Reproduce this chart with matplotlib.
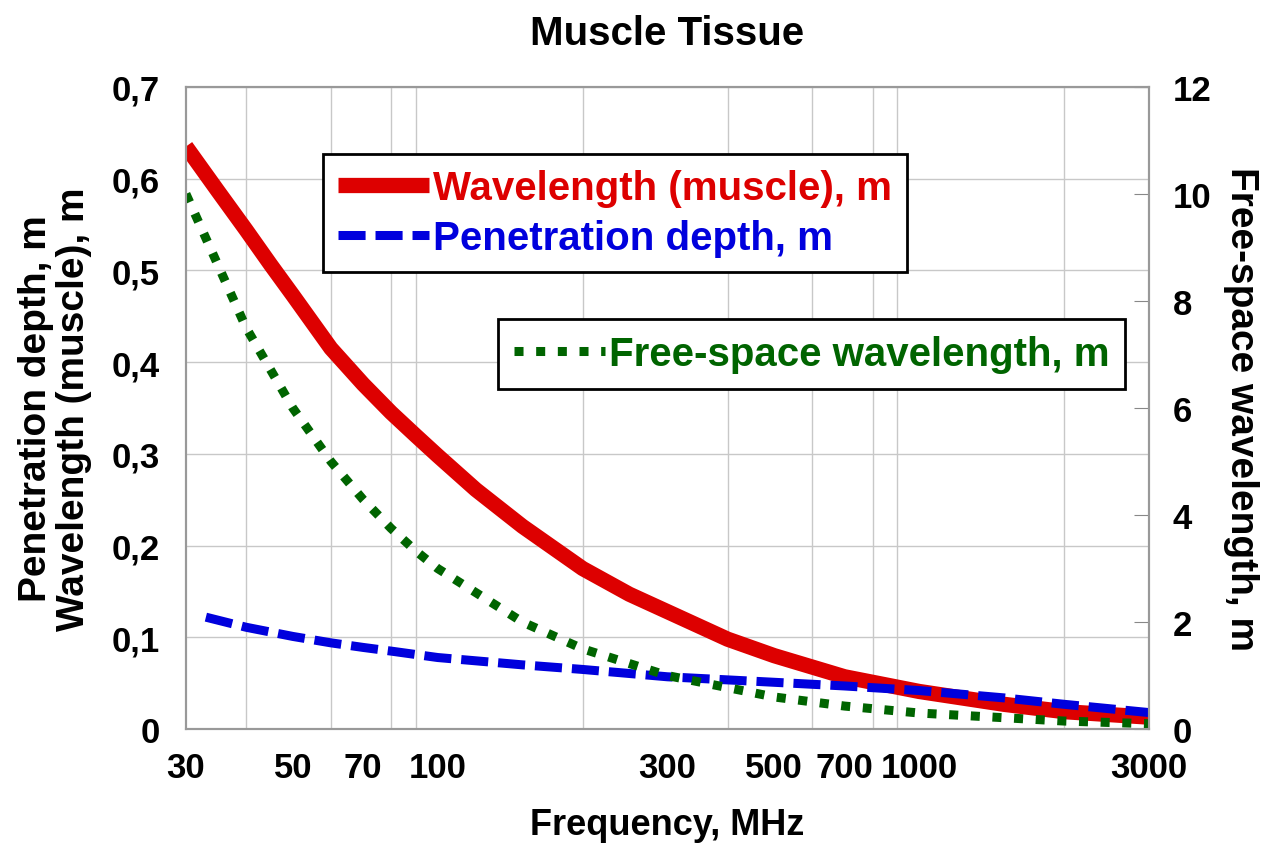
import matplotlib
matplotlib.use("Agg")
import matplotlib.pyplot as plt
from matplotlib.ticker import FixedLocator, NullFormatter, FuncFormatter

plt.rcParams["font.family"] = ["Liberation Sans", "DejaVu Sans"]
plt.rcParams["font.weight"] = "bold"

# frequency, MHz
freq_red = [30, 35, 40, 45, 50, 60, 70, 80, 90, 100, 120, 150, 200, 250, 300, 400,
            500, 700, 1000, 1500, 2000, 3000]
wl_muscle = [0.635, 0.586, 0.544, 0.506, 0.473, 0.415, 0.376, 0.345, 0.32, 0.298,
             0.261, 0.221, 0.175, 0.147, 0.128, 0.098, 0.080, 0.057, 0.041, 0.027,
             0.019, 0.013]

freq_blue = [33, 40, 50, 60, 70, 80, 100, 150, 200, 300, 500, 700, 1000, 1500, 2000, 3000]
pen_depth = [0.122, 0.111, 0.101, 0.094, 0.089, 0.085, 0.078, 0.070, 0.065, 0.057,
             0.051, 0.047, 0.042, 0.034, 0.027, 0.018]

freq_green = [30, 40, 50, 60, 70, 80, 90, 100, 150, 200, 300, 500, 700, 1000, 2000, 3000]
wl_free = [10.0, 7.5, 6.0, 5.0, 4.29, 3.75, 3.33, 3.0, 2.0, 1.5, 1.0, 0.6, 0.43, 0.3, 0.15, 0.1]

xtick_labels = [30, 50, 70, 100, 300, 500, 700, 1000, 3000]
xgrid = [30, 40, 50, 60, 70, 80, 90, 100, 200, 300, 400, 500, 600, 700, 800, 900,
         1000, 2000, 3000]

fig = plt.figure(figsize=(12.78, 8.45), dpi=100)
ax = fig.add_axes([0.1455, 0.136, 0.7535, 0.760])
ax2 = ax.twinx()

red, = ax.plot(freq_red, wl_muscle, color="#dd0000", lw=11, solid_capstyle="butt",
               solid_joinstyle="round", label="Wavelength (muscle), m")
blue, = ax.plot(freq_blue, pen_depth, color="#0000dd", lw=6.5, dashes=(3.0, 1.1),
                label="Penetration depth, m")
green, = ax2.plot(freq_green, wl_free, color="#006400", lw=6.5, dashes=(1.0, 1.4),
                  label="Free-space wavelength, m")

ax.set_xscale("log")
ax.set_xlim(30, 3000)
ax.set_ylim(0, 0.7)
ax2.set_ylim(0, 12)

ax.xaxis.set_major_locator(FixedLocator(xtick_labels))
ax.xaxis.set_major_formatter(FuncFormatter(lambda v, p: "%d" % v))
ax.xaxis.set_minor_locator(FixedLocator(xgrid))
ax.xaxis.set_minor_formatter(NullFormatter())
ax.set_yticks([0, 0.1, 0.2, 0.3, 0.4, 0.5, 0.6, 0.7])
ax.yaxis.set_major_formatter(FuncFormatter(lambda v, p: ("%.1f" % v).replace(".", ",") if v else "0"))
ax2.set_yticks([0, 2, 4, 6, 8, 10, 12])

ax.grid(True, which="minor", axis="x", color="#c8c8c8", lw=1)
ax.grid(True, which="major", axis="y", color="#c8c8c8", lw=1)
ax.tick_params(axis="x", which="both", length=0, labelsize=25, pad=16)
ax.tick_params(axis="y", which="both", length=0, labelsize=25, pad=19)
ax2.tick_params(axis="y", direction="in", length=11, color="#888888", labelsize=25, pad=17)
ax.set_axisbelow(True)

for a in (ax, ax2):
    for s in a.spines.values():
        s.set_color("#999999")
        s.set_linewidth(1.5)

ax.set_xlabel("Frequency, MHz", fontsize=26, fontweight="bold", labelpad=16)
ax.set_ylabel("Penetration depth, m\nWavelength (muscle), m", fontsize=28,
              fontweight="bold", labelpad=14, linespacing=1.05)
ax2.set_ylabel("Free-space wavelength, m", fontsize=28, fontweight="bold",
               rotation=270, labelpad=34)
ax.set_title("Muscle Tissue", fontsize=29, fontweight="bold", pad=31)

leg1 = ax2.legend(handles=[red, blue], loc="upper left", bbox_to_anchor=(0.142, 0.896),
                  borderaxespad=0, fancybox=False, edgecolor="black", framealpha=1,
                  prop={"size": 29, "weight": "bold"}, labelcolor="linecolor",
                  handlelength=2.25, handletextpad=0.1, labelspacing=0.3,
                  borderpad=0.38)
leg1.get_frame().set_linewidth(2)
ax2.add_artist(leg1)
leg2 = ax2.legend(handles=[green], loc="upper left", bbox_to_anchor=(0.324, 0.639),
                  borderaxespad=0, fancybox=False, edgecolor="black", framealpha=1,
                  prop={"size": 29, "weight": "bold"}, labelcolor="linecolor",
                  handlelength=2.25, handletextpad=0.1, borderpad=0.4)
leg2.get_frame().set_linewidth(2)

fig.savefig("out.png", dpi=100)
